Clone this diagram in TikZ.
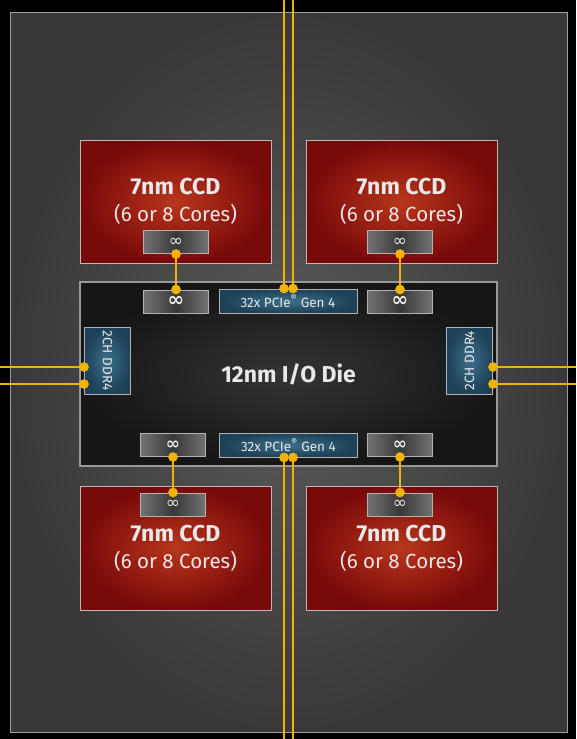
\documentclass[tikz,border=0pt]{standalone}
\usepackage{fontspec}
\setmainfont{Fira Sans}
\newfontfamily\inffont{DejaVu Sans}
\usetikzlibrary{shadings}
\definecolor{wire}{HTML}{F2B200}
\definecolor{txt}{HTML}{E8E8E8}
\definecolor{pkgin}{HTML}{5C5C5C}
\definecolor{pkgout}{HTML}{383838}
\definecolor{ccdin}{HTML}{B8361C}
\definecolor{ccdout}{HTML}{780909}
\definecolor{ioin}{HTML}{343434}
\definecolor{ioout}{HTML}{161616}
\definecolor{bluein}{HTML}{3E6F8A}
\definecolor{blueout}{HTML}{1C4158}
\tikzset{
every picture/.style={
line width=1pt
},
box/.style={draw=#1, inner sep=0pt, text=txt},
pkg/.style={box=gray!75, inner color=pkgin, outer color=pkgout},
ccd/.style={box=gray!55, inner color=ccdin, outer color=ccdout,
  minimum width=191pt, minimum height=123pt, align=center, font=\fontsize{20.5}{27}\selectfont},
iodie/.style={box=gray!80, line width=1.5pt, inner color=ioin, outer color=ioout,
  minimum width=417pt, minimum height=184pt},
infbox/.style={box=gray!60, left color=black!55, right color=black!55, middle color=black!78,
  minimum width=65pt, minimum height=23pt},
bluebox/.style={box=gray!60, inner color=bluein, outer color=blueout,
  font=\fontsize{13.5}{14}\selectfont},
wire/.style={draw=wire, fill=wire, line width=2.5pt}
}

\begin{document}
\begin{tikzpicture}[x=1pt, y=-1pt]
      \fill [black] (0,0) rectangle (576,739);
      \useasboundingbox (0,0) rectangle (576,739);
      \node [pkg, minimum width=557pt, minimum height=720pt] (pkg) at (288.5,372) {};
      % chiplets
      \node [ccd] (ccdTL) at (175.5,201.5)
        {{\bfseries\fontsize{23}{27}\selectfont 7nm CCD}\\ (6 or 8 Cores)};
      \node [ccd] (ccdTR) at (401.5,201.5)
        {{\bfseries\fontsize{23}{27}\selectfont 7nm CCD}\\ (6 or 8 Cores)};
      \node [ccd, minimum height=124pt] (ccdBL) at (175.5,548)
        {{\bfseries\fontsize{23}{27}\selectfont 7nm CCD}\\ (6 or 8 Cores)};
      \node [ccd, minimum height=124pt] (ccdBR) at (401.5,548)
        {{\bfseries\fontsize{23}{27}\selectfont 7nm CCD}\\ (6 or 8 Cores)};
      \node [iodie] (io) at (288.5,374) {\fontsize{23}{25}\selectfont\bfseries 12nm I/O Die};
      % infinity fabric ports
      \node [infbox, font=\inffont\fontsize{17}{17}\selectfont] (ifTL) at (176,242) {∞};
      \node [infbox, font=\inffont\fontsize{17}{17}\selectfont] (ifTR) at (400,242) {∞};
      \node [infbox, font=\inffont\fontsize{17}{17}\selectfont] (ifBL) at (173,504.5) {∞};
      \node [infbox, font=\inffont\fontsize{17}{17}\selectfont] (ifBR) at (400,504.5) {∞};
      \node [infbox, font=\inffont\bfseries\fontsize{20}{20}\selectfont] (ioTL) at (176,301.5) {∞};
      \node [infbox, font=\inffont\bfseries\fontsize{20}{20}\selectfont] (ioTR) at (400,301.5) {∞};
      \node [infbox, font=\inffont\bfseries\fontsize{17}{17}\selectfont] (ioBL) at (173,445) {∞};
      \node [infbox, font=\inffont\bfseries\fontsize{17}{17}\selectfont] (ioBR) at (400,445) {∞};
      % pcie and memory
      \node [bluebox, minimum width=138pt, minimum height=24pt] (pcieT) at (288,301)
        {32x PCIe\textsuperscript{®} Gen 4};
      \node [bluebox, minimum width=138pt, minimum height=24pt] (pcieB) at (288.5,445)
        {32x PCIe\textsuperscript{®} Gen 4};
      \node [bluebox, minimum width=46pt, minimum height=67pt] (ddrL) at (107.5,360.5) {};
      \node [rotate=-90, text=txt, font=\fontsize{13.5}{14}\selectfont] at (ddrL) {2CH DDR4};
      \node [bluebox, minimum width=46pt, minimum height=67pt] (ddrR) at (469.5,360.5) {};
      \node [rotate=90, text=txt, font=\fontsize{13.5}{14}\selectfont] at (ddrR) {2CH DDR4};
      % free ends at the edge of the picture
      \coordinate (pt1) at (284,0);   \coordinate (pt2) at (293,0);
      \coordinate (pb1) at (284,739); \coordinate (pb2) at (293,739);
      \coordinate (dl1) at (0,367);   \coordinate (dl2) at (0,384);
      \coordinate (dr1) at (576,367); \coordinate (dr2) at (576,384);
      % links
      \foreach \a/\b in {ifTL/ioTL, ifTR/ioTR, ioBL/ifBL, ioBR/ifBR} {
        \draw [wire] (\a.south) -- (\b.north);
        \fill [wire] (\a.south) circle (3.5) (\b.north) circle (3.5);
      }
      \foreach \c in {pt1, pt2} {
        \draw [wire] (\c) -- (\c |- pcieT.north);
        \fill [wire] (\c |- pcieT.north) circle (3.5);
      }
      \foreach \c in {pb1, pb2} {
        \draw [wire] (\c) -- (\c |- pcieB.south);
        \fill [wire] (\c |- pcieB.south) circle (3.5);
      }
      \foreach \c in {dl1, dl2} {
        \draw [wire] (\c) -- (\c -| ddrL.west);
        \fill [wire] (\c -| ddrL.west) circle (3.5);
      }
      \foreach \c in {dr1, dr2} {
        \draw [wire] (\c) -- (\c -| ddrR.east);
        \fill [wire] (\c -| ddrR.east) circle (3.5);
      }
\end{tikzpicture}
\end{document}
